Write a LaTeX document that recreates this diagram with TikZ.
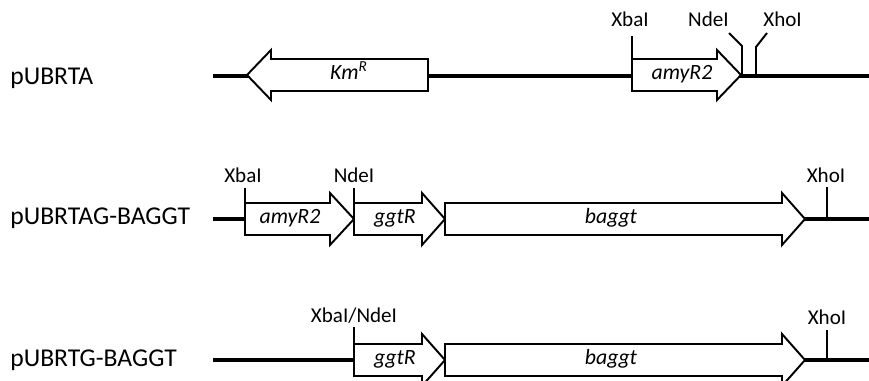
\documentclass[tikz,border=0pt]{standalone}
\usepackage{fontspec}
\setmainfont{Carlito}

\tikzset{
    backbone/.style={line width=2.5pt},
    gene/.style={draw, fill=white, line width=1.1pt, line join=miter},
    site/.style={line width=1.1pt},
    genelbl/.style={anchor=mid, inner sep=0pt, font=\fontsize{12.4}{14}\selectfont\itshape},
    sitelbl/.style={anchor=base, inner sep=0pt, font=\fontsize{12}{14}\selectfont},
    plasmid/.style={anchor=base west, inner sep=0pt, font=\fontsize{14.6}{17}\selectfont}
}

\begin{document}
\begin{tikzpicture}[x=0.02cm, y=-0.02cm]
    \useasboundingbox (0,0) rectangle (869,381);

    % plasmid names
    \node[plasmid] (pA)  at (10,85)  {pUBRTA};
    \node[plasmid] (pAG) at (10,225) {pUBRTAG-BAGGT};
    \node[plasmid] (pG)  at (10,367) {pUBRTG-BAGGT};

    % pUBRTA
    \draw[backbone] (213,76) -- (869,76);
    \draw[gene] (428,59) -- (271,59) -- (271,50) -- (247,75) -- (271,100) -- (271,91) -- (428,91) -- cycle;
    \draw[gene] (632,59) -- (717,59) -- (717,50) -- (741,75) -- (717,100) -- (717,91) -- (632,91) -- cycle;
    \node[genelbl] (kmA)  at (349,75) {Km\textsuperscript{R}};
    \node[genelbl] (amyA) at (682,75) {amyR2};
    \draw[site] (632,59) -- (632,36);
    \draw[site] (742,76) -- (742,46) -- (729,33);
    \draw[site] (756,76) -- (756,47) -- (767,33);
    \node[sitelbl] (xbaA) at (630,27) {XbaI};
    \node[sitelbl, anchor=base east] (ndeA) at (729,27) {NdeI};
    \node[sitelbl, anchor=base west] (xhoA) at (763,27) {XhoI};

    % pUBRTAG-BAGGT
    \draw[backbone] (213,219) -- (869,219);
    \draw[gene] (245,203) -- (330,203) -- (330,193) -- (354,219) -- (330,245) -- (330,235) -- (245,235) -- cycle;
    \draw[gene] (354,203) -- (422,203) -- (422,193) -- (445,219) -- (422,245) -- (422,235) -- (354,235) -- cycle;
    \draw[gene] (445,203) -- (782,203) -- (782,193) -- (805,219) -- (782,245) -- (782,235) -- (445,235) -- cycle;
    \node[genelbl] (amyB)  at (290,219) {amyR2};
    \node[genelbl] (ggtB)  at (395,219) {ggtR};
    \node[genelbl] (baggB) at (611,219) {baggt};
    \draw[site] (245,203) -- (245,188);
    \draw[site] (354,203) -- (354,188);
    \draw[site] (827,219) -- (827,187);
    \node[sitelbl] (xbaB) at (243,183) {XbaI};
    \node[sitelbl] (ndeB) at (354,183) {NdeI};
    \node[sitelbl] (xhoB) at (826,183) {XhoI};

    % pUBRTG-BAGGT
    \draw[backbone] (213,360) -- (869,360);
    \draw[gene] (354,344) -- (422,344) -- (422,334) -- (445,360) -- (422,386) -- (422,376) -- (354,376) -- cycle;
    \draw[gene] (445,344) -- (782,344) -- (782,334) -- (805,360) -- (782,386) -- (782,376) -- (445,376) -- cycle;
    \node[genelbl] (ggtC)  at (395,360) {ggtR};
    \node[genelbl] (baggC) at (611,360) {baggt};
    \draw[site] (354,344) -- (354,327);
    \draw[site] (827,360) -- (827,330);
    \node[sitelbl] (xbndC) at (354,323) {XbaI/NdeI};
    \node[sitelbl] (xhoC)  at (827,325) {XhoI};
\end{tikzpicture}
\end{document}
